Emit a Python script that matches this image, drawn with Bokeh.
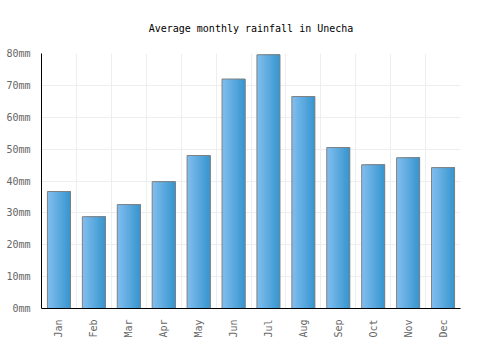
from bokeh.plotting import figure
from bokeh.models import Range1d, FixedTicker, ColumnDataSource
from bokeh.transform import dodge
from bokeh.embed import file_html
from bokeh.resources import INLINE

months = ["Jan", "Feb", "Mar", "Apr", "May", "Jun", "Jul", "Aug", "Sep", "Oct", "Nov", "Dec"]
rainfall = [36.7, 28.8, 32.6, 39.8, 48.0, 72.0, 79.6, 66.5, 50.5, 45.1, 47.3, 44.2]
y_ticks = [0, 10, 20, 30, 40, 50, 60, 70, 80]

FONT = "DejaVu Sans Mono"
xs = [i + 0.5 for i in range(len(months))]
src = ColumnDataSource(dict(x=xs, top=rainfall))

p = figure(width=500, height=350, output_backend="svg", toolbar_location=None,
           x_range=Range1d(0, len(months)), y_range=Range1d(0, 80),
           min_border_left=41, min_border_right=40, min_border_top=53, min_border_bottom=42)

# gradient bars: each strip spans from its left edge to the bar's right edge
bar_w = 0.66
n = 16
c0 = (0x80, 0xbd, 0xee)
c1 = (0x38, 0x96, 0xcf)
sw = bar_w / n
for k in range(n):
    t = k / (n - 1)
    col = "#%02x%02x%02x" % tuple(int(round(a + (b - a) * t)) for a, b in zip(c0, c1))
    left = -bar_w / 2 + sw * k
    right = bar_w / 2
    p.vbar(x=dodge("x", (left + right) / 2), top="top", bottom=0, width=right - left,
           source=src, fill_color=col, line_color=None)
p.vbar(x="x", top="top", bottom=0, width=bar_w, source=src,
       fill_color=None, line_color="#808080", line_width=1)

p.title.text = "Average monthly rainfall in Unecha"
p.title.align = "center"
p.title.text_font = FONT
p.title.text_font_size = "10px"
p.title.text_font_style = "normal"
p.title.text_color = "#000000"
p.title.standoff = 40

p.xaxis.ticker = FixedTicker(ticks=xs)
p.xaxis.major_label_overrides = {x: m for x, m in zip(xs, months)}
p.xaxis.major_label_orientation = 1.5708
p.yaxis.ticker = FixedTicker(ticks=y_ticks)
p.yaxis.major_label_overrides = {v: f"{v}mm" for v in y_ticks}
for ax in (p.xaxis, p.yaxis):
    ax.major_label_text_font = FONT
    ax.major_label_text_font_size = "10px"
    ax.major_label_text_color = "#666666"
    ax.major_tick_line_color = None
    ax.minor_tick_line_color = None
    ax.axis_line_color = "#000000"
    ax.axis_line_width = 1

p.xgrid.ticker = FixedTicker(ticks=list(range(len(months) + 1)))
p.grid.grid_line_color = "#eeeeee"
p.grid.grid_line_width = 1
p.outline_line_color = None
p.background_fill_color = "white"
p.border_fill_color = "white"

open("out.html", "w").write(file_html(p, INLINE))
